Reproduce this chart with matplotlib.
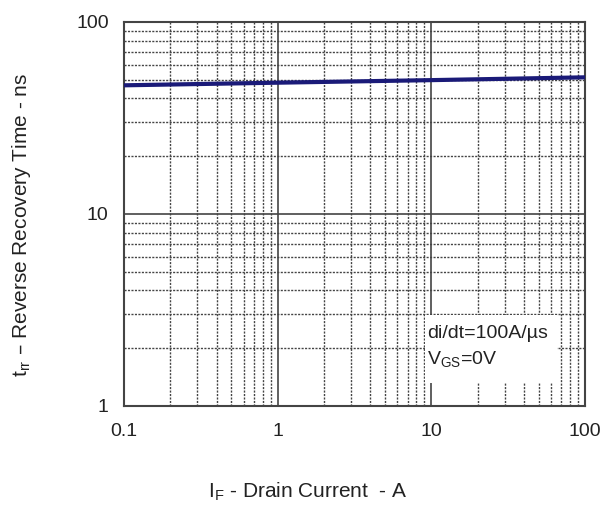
import matplotlib
matplotlib.use("Agg")
import matplotlib.pyplot as plt
from matplotlib.ticker import LogLocator, FixedLocator, NullFormatter
import matplotlib.patches as mpatches

# reverse recovery time vs forward current
i_f = [0.1, 1, 10, 100]
t_rr = [46.8, 48.3, 49.8, 51.5]

plt.rcParams['font.family'] = ['Liberation Sans', 'DejaVu Sans']

fig = plt.figure(figsize=(6.16, 5.07), dpi=100)
ax = fig.add_axes([124/616, 1-406/507, (585-124)/616, (406-22)/507])

ax.set_xscale('log')
ax.set_yscale('log')
ax.set_xlim(0.1, 100)
ax.set_ylim(1, 100)

ax.xaxis.set_major_locator(FixedLocator([0.1, 1, 10, 100]))
ax.yaxis.set_major_locator(FixedLocator([1, 10, 100]))
ax.xaxis.set_minor_locator(LogLocator(base=10, subs=range(2, 10)))
ax.yaxis.set_minor_locator(LogLocator(base=10, subs=range(2, 10)))
ax.xaxis.set_minor_formatter(NullFormatter())
ax.yaxis.set_minor_formatter(NullFormatter())
ax.set_xticklabels(['0.1', '1', '10', '100'])
ax.set_yticklabels(['1', '10', '100'])

ax.grid(True, which='major', color='#444444', linewidth=1.2, linestyle='-')
ax.grid(True, which='minor', color='#444444', linewidth=1.0, linestyle=(0, (1.5, 1)))
ax.tick_params(which='both', length=0, labelsize=14, labelcolor='#222222')
ax.tick_params(axis='x', pad=12)
ax.tick_params(axis='y', pad=11)
for s in ax.spines.values():
    s.set_color('#444444')
    s.set_linewidth(1.5)

ax.plot(i_f, t_rr, color='#1a1a78', linewidth=3, zorder=4)

# white box behind annotation
box = mpatches.Rectangle((425/616, 1-383/507), (557-425)/616, (383-315)/507,
                         transform=fig.transFigure, facecolor='white',
                         edgecolor='none', zorder=5)
ax.add_artist(box)
fig.text(427/616, 1-334/507, 'di/dt=100A/µs', fontsize=14,
         color='#222222', va='center', zorder=6)
fig.text(427/616, 1-360/507, 'V$_{\\mathregular{GS}}$=0V', fontsize=14,
         color='#222222', va='center', zorder=6)

fig.text(22/616, 1-225/507, 't$_{\\mathregular{rr}}$ \u2013 Reverse Recovery Time - ns',
         rotation=90, fontsize=15, color='#222222', ha='center', va='center')
fig.text(308/616, 1-492/507, 'I$_{\\mathregular{F}}$ - Drain Current  - A',
         fontsize=15, color='#222222', ha='center', va='center')

fig.savefig('out.png', dpi=100)
